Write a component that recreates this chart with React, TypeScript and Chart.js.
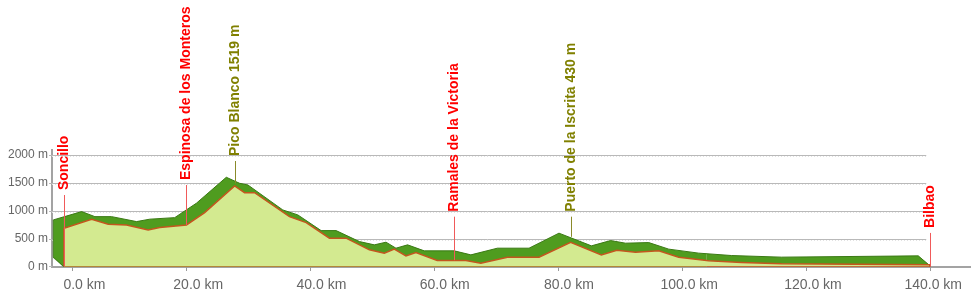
import React, { useEffect, useRef } from 'react';
import { Chart, registerables } from 'chart.js';

Chart.register(...registerables);

// Front (real) elevation profile: distance in km, elevation in m
const frontKm = [0.34, 0.34, 4.8, 7.47, 10.43, 13.91, 15.79, 20.09, 23.03, 27.86, 29.47, 31.08, 36.71, 39.4, 43.15, 45.84, 49.59, 52.0, 53.61, 55.49, 57.1, 60.53, 65.15, 67.57, 71.85, 76.95, 82.05, 87.0, 89.5, 92.51, 96.26, 99.48, 104.31, 109.62, 116.06, 139.9, 140];
const frontElev = [0, 685, 847, 757, 744, 655, 696, 744, 965, 1444, 1324, 1324, 893, 786, 506, 506, 296, 237, 309, 188, 248, 104, 104, 57, 165, 165, 430, 206, 290, 255, 278, 165, 99, 68, 45, 30, 0];

// Back face (3D shadow) of the profile
const shadowKm = [-1.38, -1.38, 3.19, 5.33, 8.02, 12.04, 14.18, 18.2, 21.7, 26.52, 28.66, 30.0, 35.63, 38.05, 41.81, 44.23, 47.98, 50.39, 52.28, 53.88, 55.75, 58.44, 63.27, 65.96, 70.24, 75.34, 80.17, 85.4, 88.49, 90.9, 94.65, 97.87, 102.7, 108.01, 116.06, 138.11, 140];
const shadowElev = [170, 834, 983, 893, 893, 804, 847, 875, 1134, 1600, 1492, 1462, 1013, 924, 642, 642, 445, 386, 434, 326, 386, 278, 278, 206, 326, 326, 596, 368, 463, 416, 427, 309, 237, 194, 165, 188, 10];

// Base outline of the solid
const baseKm = [-1.38, 0.34, 104, 140];
const baseElev = [170, 0, 0, 0];

const yTicks = [0, 500, 1000, 1500, 2000];
const xTickMarks = [1.7, 20, 40, 60, 80, 100, 120, 140];
const xLabelPos = [3.64, 21.99, 41.86, 61.74, 81.78, 101.17, 121.13, 140.52];
const xTickLabels = ['0.0 km', '20.0 km', '40.0 km', '60.0 km', '80.0 km', '100.0 km', '120.0 km', '140.0 km'];
const gridEndKm = 139.4;

const markerNames = ['Soncillo', 'Espinosa de los Monteros', 'Pico Blanco 1519 m', 'Ramales de la Victoria', 'Puerto de la Iscrita 430 m', 'Bilbao'];
const markerKm = [0.34, 20.09, 27.97, 63.27, 82.05, 139.96];
const markerBase = [0, 744, 1490, 110, 530, 0];
const markerTop = [1281, 1461, 1892, 892, 892, 600];
const markerKind = ['town', 'town', 'peak', 'town', 'peak', 'town'];

const FONT = '"Liberation Sans", Arial, Helvetica, sans-serif';

const overlayPlugin = {
  id: 'profileOverlay',
  beforeDatasetsDraw(chart: any) {
    const { ctx, chartArea, scales } = chart;
    const x = scales.x;
    const y = scales.y;
    ctx.save();
    const x0 = chartArea.left - 3;
    const x1 = x.getPixelForValue(gridEndKm);
    for (const v of yTicks) {
      const py = Math.round(y.getPixelForValue(v)) + 0.5;
      ctx.beginPath();
      ctx.strokeStyle = '#b9b9b9';
      ctx.lineWidth = 1;
      ctx.setLineDash([]);
      ctx.moveTo(x0, py);
      ctx.lineTo(v === 0 ? chartArea.left : x1, py);
      ctx.stroke();
      if (v !== 0) {
        ctx.beginPath();
        ctx.strokeStyle = '#e2e2e2';
        ctx.setLineDash([1, 2]);
        ctx.moveTo(chartArea.left, py + 1);
        ctx.lineTo(x1, py + 1);
        ctx.stroke();
      }
    }
    ctx.restore();
  },
  afterDatasetsDraw(chart: any) {
    const { ctx, chartArea, scales } = chart;
    const x = scales.x;
    const y = scales.y;
    ctx.save();
    // x tick marks
    ctx.strokeStyle = '#9a9a9a';
    ctx.lineWidth = 1;
    for (const v of xTickMarks) {
      const px = Math.round(x.getPixelForValue(v)) + 0.5;
      ctx.beginPath();
      ctx.moveTo(px, chartArea.bottom);
      ctx.lineTo(px, chartArea.bottom + 4);
      ctx.stroke();
    }
    // markers
    markerNames.forEach((name, i) => {
      const px = Math.round(x.getPixelForValue(markerKm[i])) + 0.5;
      const top = y.getPixelForValue(markerTop[i]);
      const bot = y.getPixelForValue(markerBase[i]);
      const isTown = markerKind[i] === 'town';
      ctx.beginPath();
      ctx.strokeStyle = isTown ? '#f05a5a' : '#8a8a2a';
      ctx.lineWidth = 1;
      ctx.moveTo(px, top);
      ctx.lineTo(px, bot);
      ctx.stroke();
      ctx.save();
      ctx.translate(px, top - 5);
      ctx.rotate(-Math.PI / 2);
      ctx.fillStyle = isTown ? '#ff0000' : '#808000';
      ctx.font = 'bold 14px ' + FONT;
      ctx.textAlign = 'left';
      ctx.textBaseline = 'middle';
      ctx.fillText(name, 0, 0);
      ctx.restore();
    });
    ctx.restore();
  },
};

export default function App() {
  const ref = useRef<HTMLCanvasElement>(null);
  useEffect(() => {
    document.body.style.margin = '0';
    const front = frontKm.map((k, i) => ({ x: k, y: frontElev[i] }));
    const shadow = shadowKm.map((k, i) => ({ x: k, y: shadowElev[i] }));
    const base = baseKm.map((k, i) => ({ x: k, y: baseElev[i] }));
    const chart = new Chart(ref.current as HTMLCanvasElement, {
      type: 'line',
      data: {
        datasets: [
          {
            data: front,
            borderColor: '#c4561e',
            borderWidth: 1.5,
            backgroundColor: '#d3ea90',
            fill: 'origin',
            pointRadius: 0,
            tension: 0,
          },
          {
            data: shadow,
            borderColor: '#3b7a15',
            borderWidth: 1,
            backgroundColor: '#4f9c1f',
            fill: 2,
            pointRadius: 0,
            tension: 0,
          },
          {
            data: base,
            borderWidth: 1.5,
            borderColor: '#c4561e',
            segment: {
              borderColor: (c: any) => (c.p0DataIndex === 0 ? '#3b7a15' : c.p0DataIndex === 2 ? '#e0261a' : '#c4561e'),
            },
            fill: false,
            pointRadius: 0,
            tension: 0,
          },
        ] as any,
      },
      options: {
        responsive: false,
        animation: false,
        devicePixelRatio: 1,
        layout: { padding: { top: 150, left: 0, right: 0, bottom: 0 } },
        plugins: { legend: { display: false }, tooltip: { enabled: false } },
        scales: {
          x: {
            type: 'linear',
            min: -1.59,
            max: 146.48,
            grid: { display: false, drawTicks: false },
            border: { display: true, color: '#a3a3a3', width: 2 },
            afterBuildTicks: (s: any) => {
              s.ticks = xLabelPos.map((v) => ({ value: v }));
            },
            afterFit: (s: any) => {
              s.height = 30;
            },
            ticks: {
              autoSkip: false,
              maxRotation: 0,
              padding: 10,
              color: '#666',
              font: { family: FONT, size: 14 },
              callback: (_v: any, i: number) => xTickLabels[i],
            },
          },
          y: {
            type: 'linear',
            min: -12,
            max: 2090,
            grid: { display: false, drawTicks: false },
            border: { display: true, color: '#a3a3a3', width: 2 },
            afterBuildTicks: (s: any) => {
              s.ticks = yTicks.map((v) => ({ value: v }));
            },
            afterFit: (s: any) => {
              s.width = 52;
            },
            ticks: {
              padding: 4,
              color: '#666',
              font: { family: FONT, size: 12 },
              callback: (v: any) => v + ' m',
            },
          },
        },
      } as any,
      plugins: [overlayPlugin],
    });
    return () => chart.destroy();
  }, []);
  return (
    <div style={{ width: 972, height: 297 }}>
      <canvas ref={ref} width={972} height={297} style={{ display: 'block' }} />
    </div>
  );
}
